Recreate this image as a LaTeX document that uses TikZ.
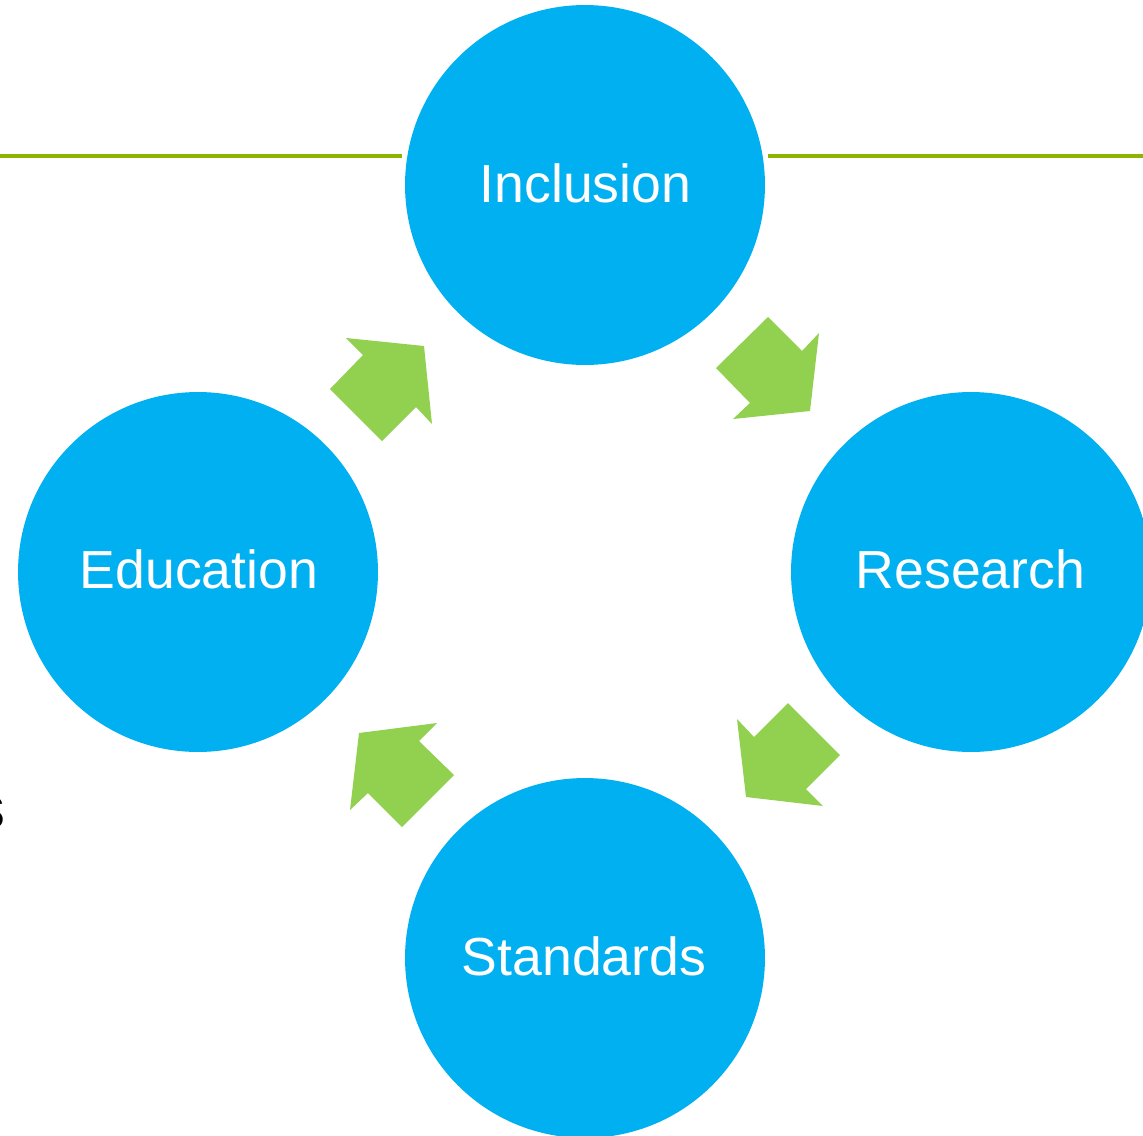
\documentclass[tikz,border=0pt]{standalone}
\usepackage{fontspec}
\setmainfont{Liberation Sans}
\definecolor{cycleblue}{HTML}{00B0F0}
\definecolor{arrowgreen}{HTML}{92D050}
\definecolor{rulegreen}{HTML}{8CB400}
\begin{document}
\begin{tikzpicture}[x=0.02cm,y=-0.02cm,
  stage/.style={circle,fill=cycleblue,minimum size=7.2cm,inner sep=0pt},
  label/.style={text=white,font=\fontsize{30.5}{36}\selectfont,anchor=base,inner sep=0pt},
  flow/.style={fill=arrowgreen,draw=none},
  rule/.style={draw=rulegreen,line width=4*0.569pt}]
\useasboundingbox (0,0) rectangle (1143,1136);
\clip (0,0) rectangle (1143,1136);

% partial text at the left border
\node[anchor=base east,inner sep=0pt,font=\fontsize{34}{40}\selectfont] (edgetext) at (6,828) {s};

% header rules on either side of the top stage
\coordinate (ruleAstart) at (0,156);
\coordinate (ruleAend) at (402,156);
\coordinate (ruleBstart) at (768,156);
\coordinate (ruleBend) at (1143,156);
\draw[rule] (ruleAstart) -- (ruleAend);
\draw[rule] (ruleBstart) -- (ruleBend);

% the four stages
\node[stage] (incl) at (585,185) {};
\node[stage] (res) at (971,572) {};
\node[stage] (std) at (585,958) {};
\node[stage] (edu) at (198,572) {};

\node[label] (inclT) at (585.5,202) {Inclusion};
\node[label] (resT) at (970.5,588) {Research};
\node[label] (stdT) at (584,975) {Standards};
\node[label] (eduT) at (199,588) {Education};

% block arrows between stages
\fill[flow] (716,368) -- (768,317) -- (802,351) -- (819,333) -- (810,411) -- (733,419) -- (750,403) -- cycle;
\fill[flow] (754,737) -- (788,703) -- (840,755) -- (806,789) -- (823,806) -- (746,797) -- (737,719) -- cycle;
\fill[flow] (419,741) -- (454,775) -- (402,827) -- (368,793) -- (350,810) -- (359,733) -- (437,723) -- cycle;
\fill[flow] (330,389) -- (363,355) -- (346,338) -- (424,346) -- (432,424) -- (416,407) -- (382,441) -- cycle;
\end{tikzpicture}
\end{document}
